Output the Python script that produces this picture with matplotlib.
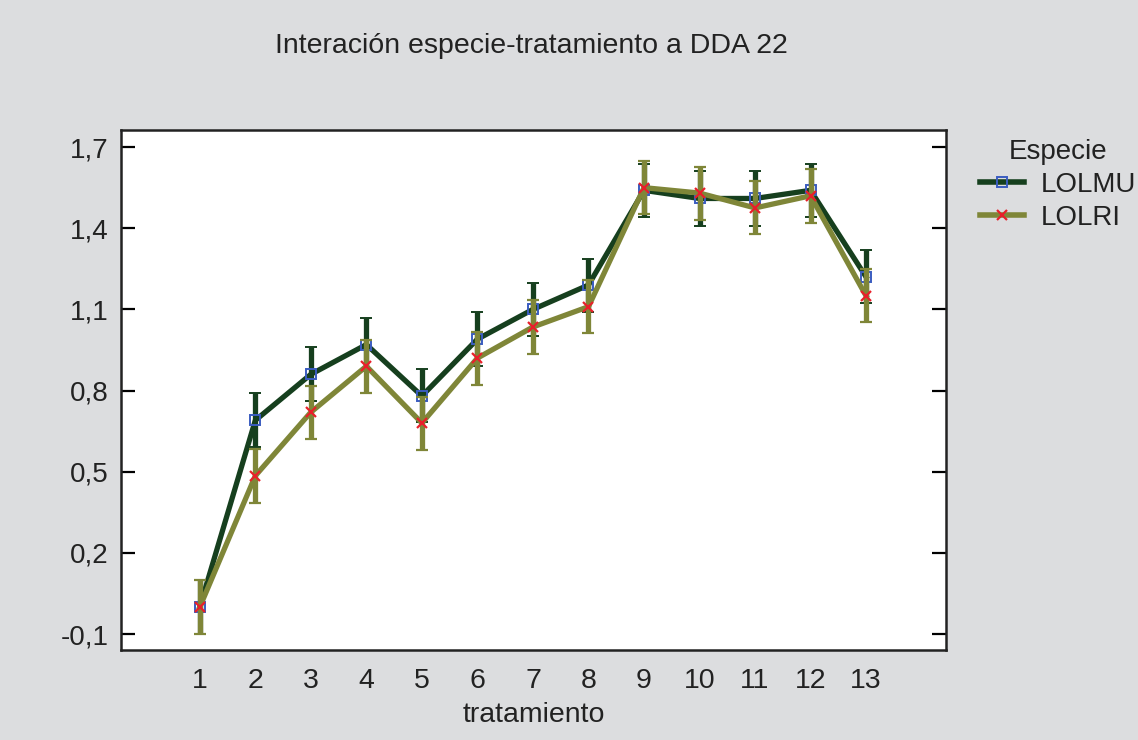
import matplotlib
matplotlib.use('Agg')
import matplotlib.pyplot as plt
from matplotlib.lines import Line2D
from matplotlib.ticker import FuncFormatter

plt.rcParams['font.family'] = ['Liberation Sans', 'DejaVu Sans']

# data
tratamiento = [1, 2, 3, 4, 5, 6, 7, 8, 9, 10, 11, 12, 13]
lolmu = [0.00, 0.69, 0.86, 0.97, 0.78, 0.99, 1.10, 1.19, 1.54, 1.51, 1.51, 1.54, 1.22]
lolmu_err = [0.098, 0.10, 0.10, 0.098, 0.098, 0.10, 0.098, 0.098, 0.098, 0.10, 0.10, 0.098, 0.098]
lolri = [0.00, 0.485, 0.72, 0.89, 0.68, 0.92, 1.035, 1.11, 1.55, 1.53, 1.475, 1.52, 1.15]
lolri_err = [0.098, 0.10, 0.098, 0.098, 0.098, 0.098, 0.10, 0.098, 0.098, 0.098, 0.098, 0.10, 0.098]
yticks = [-0.1, 0.2, 0.5, 0.8, 1.1, 1.4, 1.7]

bg = '#dcdddf'
green = '#163f1e'
olive = '#7f8638'
txt = '#222222'

fig = plt.figure(figsize=(11.38, 7.4), dpi=100, facecolor=bg)
ax = fig.add_axes([0.1063, 0.1216, 0.725, 0.7027])
ax.set_facecolor('white')

sq = dict(marker='s', markersize=7, markerfacecolor='none',
          markeredgecolor='#3a5cc0', markeredgewidth=1.4)
cr = dict(marker='x', markersize=7, markeredgecolor='#e8202a', markeredgewidth=1.6)

ax.errorbar(tratamiento, lolmu, yerr=lolmu_err, color=green, lw=3.8,
            elinewidth=3.8, capsize=4.2, capthick=4.2, zorder=2, **sq)
ax.errorbar(tratamiento, lolri, yerr=lolri_err, color=olive, lw=3.8,
            elinewidth=3.8, capsize=4.2, capthick=4.2, zorder=3, **cr)

ax.set_xlim(-0.42, 14.44)
ax.set_ylim(-0.159, 1.763)
ax.set_xticks(tratamiento)
ax.set_yticks(yticks)
ax.yaxis.set_major_formatter(FuncFormatter(lambda v, p: ('%.1f' % v).replace('.', ',')))
ax.tick_params(axis='x', length=0, labelsize=20.5, pad=13, colors=txt)
ax.tick_params(axis='y', direction='in', length=10, width=1.6, labelsize=20,
               left=True, right=True, pad=9, labelcolor=txt)
for s in ax.spines.values():
    s.set_linewidth(1.8)
    s.set_color(txt)

ax.set_xlabel('tratamiento', fontsize=20.5, color=txt, labelpad=6)
fig.text(0.467, 0.938, 'Interación especie-tratamiento a DDA 22', ha='center',
         va='center', fontsize=20.5, color=txt)

handles = [Line2D([], [], color=green, lw=4, **sq),
           Line2D([], [], color=olive, lw=4, **cr)]
leg = fig.legend(handles, ['LOLMU', 'LOLRI'], loc='upper left',
                 bbox_to_anchor=(0.861, 0.8125), frameon=False,
                 title='Especie', fontsize=20, title_fontsize=20,
                 handlelength=1.6, handletextpad=0.6, labelspacing=0.25,
                 borderaxespad=0, borderpad=0)
for t in leg.get_texts():
    t.set_color(txt)
leg.get_title().set_color(txt)

fig.savefig('out.png', dpi=100, facecolor=bg)
